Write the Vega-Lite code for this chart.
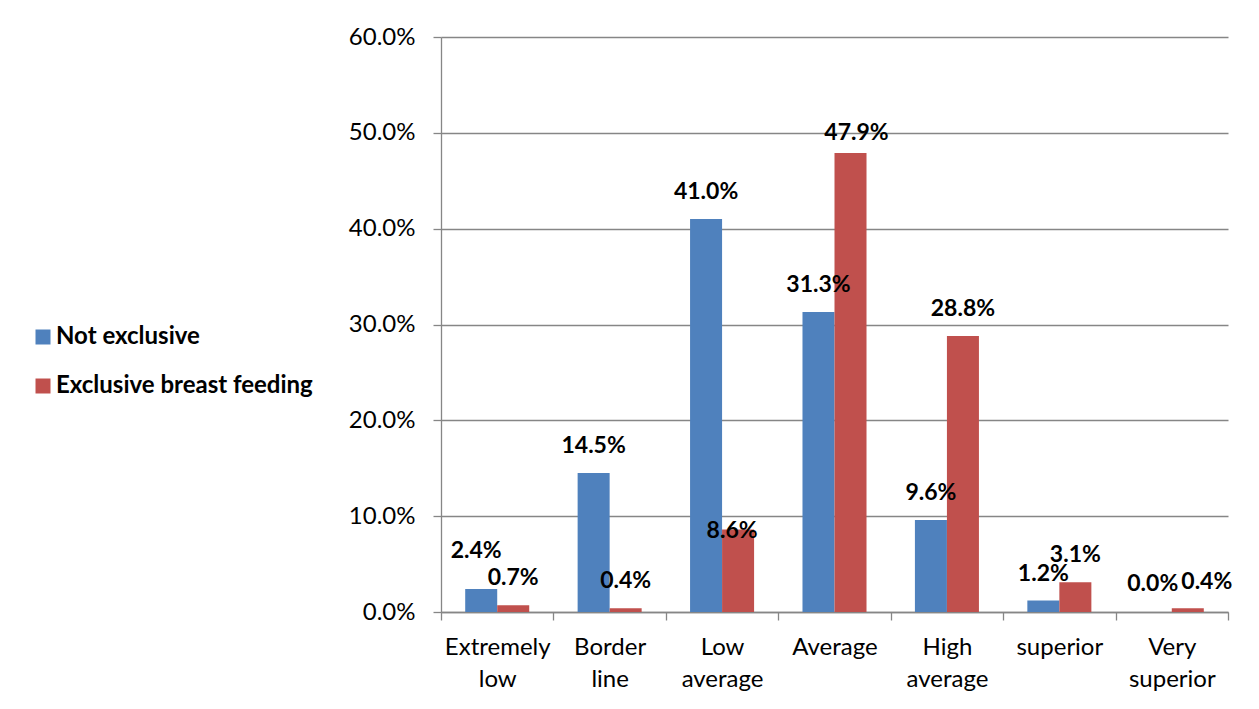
{
  "$schema": "https://vega.github.io/schema/vega-lite/v6.json",
  "autosize": "none",
  "padding": {"left": 441, "top": 37, "right": 31, "bottom": 97},
  "width": 787,
  "height": 575,
  "background": "white",
  "config": {
    "view": {"stroke": null},
    "font": "Lato",
    "axis": {"labelFont": "Lato", "labelColor": "black", "domainColor": "#868686", "tickColor": "#868686", "gridColor": "#868686", "domainWidth": 1.3, "tickWidth": 1.3, "gridWidth": 1.3}
  },
  "data": {
    "values": [
      {"category": "Extremely low", "group": "Not exclusive", "value": 0.024},
      {"category": "Extremely low", "group": "Exclusive breast feeding", "value": 0.007},
      {"category": "Border line", "group": "Not exclusive", "value": 0.145},
      {"category": "Border line", "group": "Exclusive breast feeding", "value": 0.004},
      {"category": "Low average", "group": "Not exclusive", "value": 0.410},
      {"category": "Low average", "group": "Exclusive breast feeding", "value": 0.086},
      {"category": "Average", "group": "Not exclusive", "value": 0.313},
      {"category": "Average", "group": "Exclusive breast feeding", "value": 0.479},
      {"category": "High average", "group": "Not exclusive", "value": 0.096},
      {"category": "High average", "group": "Exclusive breast feeding", "value": 0.288},
      {"category": "superior", "group": "Not exclusive", "value": 0.012},
      {"category": "superior", "group": "Exclusive breast feeding", "value": 0.031},
      {"category": "Very superior", "group": "Not exclusive", "value": 0.0},
      {"category": "Very superior", "group": "Exclusive breast feeding", "value": 0.004}
    ]
  },
  "encoding": {
    "x": {
      "field": "category", "type": "nominal", "sort": null,
      "scale": {"paddingInner": 0, "paddingOuter": 0},
      "axis": {
        "title": null, "labelAngle": 0, "tickBand": "extent", "tickSize": 8,
        "labelFontSize": 24, "labelLineHeight": 32, "labelPadding": 15,
        "labelExpr": "split(datum.label, ' ')"
      }
    },
    "xOffset": {
      "field": "group", "type": "nominal",
      "sort": ["Not exclusive", "Exclusive breast feeding"],
      "scale": {"paddingInner": 0, "paddingOuter": 0.756}
    },
    "y": {
      "field": "value", "type": "quantitative",
      "scale": {"domain": [0, 0.6], "nice": false},
      "axis": {
        "title": null, "values": [0, 0.1, 0.2, 0.3, 0.4, 0.5, 0.6], "format": ".1%",
        "grid": true, "tickSize": 8, "labelPadding": 18, "labelFontSize": 24
      }
    }
  },
  "layer": [
    {
      "mark": {"type": "bar"},
      "encoding": {
        "color": {
          "field": "group", "type": "nominal",
          "scale": {"domain": ["Not exclusive", "Exclusive breast feeding"], "range": ["#4F81BD", "#C0504D"]},
          "legend": {
            "title": null, "orient": "none", "legendX": -410, "legendY": 288,
            "symbolType": "square", "symbolSize": 225, "symbolStrokeWidth": 0,
            "labelFont": "Lato", "labelFontSize": 24, "labelFontWeight": "bold", "labelColor": "black",
            "labelOffset": 1, "rowPadding": 25, "padding": 0, "labelLimit": 400
          }
        }
      }
    },
    {
      "transform": [{"filter": "!((datum.category == 'Extremely low' && datum.group == 'Not exclusive') || (datum.category == 'Low average' && datum.group == 'Exclusive breast feeding') || (datum.category == 'Average' && datum.group == 'Exclusive breast feeding') || (datum.category == 'Very superior'))"}],
      "mark": {"type": "text", "dy": -27, "baseline": "middle", "fontWeight": "bold", "fontSize": 23, "font": "Lato", "color": "black"},
      "encoding": {"text": {"field": "value", "type": "quantitative", "format": ".1%"}}
    },
    {
      "transform": [{"filter": "datum.category == 'Extremely low' && datum.group == 'Not exclusive'"}],
      "mark": {"type": "text", "dy": -38, "dx": -5, "baseline": "middle", "fontWeight": "bold", "fontSize": 23, "font": "Lato", "color": "black"},
      "encoding": {"text": {"field": "value", "type": "quantitative", "format": ".1%"}}
    },
    {
      "transform": [{"filter": "datum.category == 'Low average' && datum.group == 'Exclusive breast feeding'"}],
      "mark": {"type": "text", "dy": 1, "dx": -6, "baseline": "middle", "fontWeight": "bold", "fontSize": 23, "font": "Lato", "color": "black"},
      "encoding": {"text": {"field": "value", "type": "quantitative", "format": ".1%"}}
    },
    {
      "transform": [{"filter": "datum.category == 'Average' && datum.group == 'Exclusive breast feeding'"}],
      "mark": {"type": "text", "dy": -20, "dx": 6, "baseline": "middle", "fontWeight": "bold", "fontSize": 23, "font": "Lato", "color": "black"},
      "encoding": {"text": {"field": "value", "type": "quantitative", "format": ".1%"}}
    },
    {
      "transform": [{"filter": "datum.category == 'Very superior' && datum.group == 'Not exclusive'"}],
      "mark": {"type": "text", "dy": -28, "dx": -3, "baseline": "middle", "fontWeight": "bold", "fontSize": 23, "font": "Lato", "color": "black"},
      "encoding": {"text": {"field": "value", "type": "quantitative", "format": ".1%"}}
    },
    {
      "transform": [{"filter": "datum.category == 'Very superior' && datum.group == 'Exclusive breast feeding'"}],
      "mark": {"type": "text", "dy": -26, "dx": 19, "baseline": "middle", "fontWeight": "bold", "fontSize": 23, "font": "Lato", "color": "black"},
      "encoding": {"text": {"field": "value", "type": "quantitative", "format": ".1%"}}
    }
  ]
}
